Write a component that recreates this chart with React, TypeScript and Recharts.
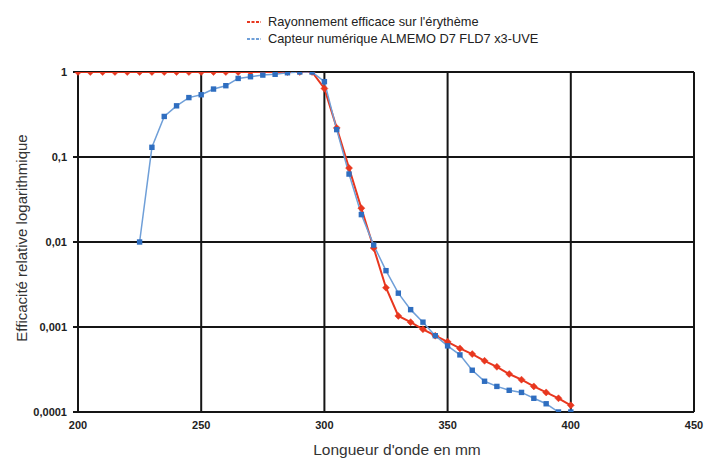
import React from "react";
import { LineChart, Line, XAxis, YAxis, CartesianGrid } from "recharts";

const wavelengths = [
  200, 205, 210, 215, 220, 225, 230, 235, 240, 245, 250, 255, 260, 265, 270, 275, 280, 285, 290, 295,
  300, 305, 310, 315, 320, 325, 330, 335, 340, 345, 350, 355, 360, 365, 370, 375, 380, 385, 390, 395, 400,
];

const erythemaValues = [
  1, 1, 1, 1, 1, 1, 1, 1, 1, 1, 1, 1, 1, 1, 1, 1, 1, 1, 1, 1,
  0.64, 0.22, 0.074, 0.025, 0.0085, 0.0029, 0.00135, 0.00114, 0.00094, 0.00079, 0.00067, 0.00056, 0.00048,
  0.0004, 0.00034, 0.00028, 0.00024, 0.0002, 0.00017, 0.000145, 0.00012,
];

const sensorValues: (number | null)[] = [
  null, null, null, null, null, 0.01, 0.13, 0.3, 0.4, 0.5, 0.54, 0.63, 0.69, 0.84, 0.88, 0.92, 0.94, 0.98, 1.0, 1.0,
  0.77, 0.21, 0.063, 0.021, 0.0092, 0.0046, 0.0025, 0.0016, 0.00114, 0.00079, 0.0006, 0.00047, 0.00031,
  0.00023, 0.0002, 0.00018, 0.00017, 0.000145, 0.000125, 0.0001, 0.0001,
];

const xTicks = [200, 250, 300, 350, 400, 450];
const yTicks = [0.0001, 0.001, 0.01, 0.1, 1];

const seriesNames = {
  red: "Rayonnement efficace sur l'érythème",
  blue: "Capteur numérique ALMEMO D7 FLD7 x3-UVE",
};

const xTitle = "Longueur d'onde en mm";
const yTitle = "Efficacité relative logarithmique";

const data = wavelengths.map((w, i) => ({
  w,
  red: erythemaValues[i],
  blue: sensorValues[i],
}));

const RED = "#e8371f";
const BLUE_LINE = "#6f9fd8";
const BLUE_DOT = "#2f6ec0";
const FONT = "'Liberation Sans', Arial, Helvetica, sans-serif";

const RedDot = (props: any) => {
  const { cx, cy } = props;
  if (cx == null || cy == null) return null;
  return (
    <polygon
      points={`${cx},${cy - 3.5} ${cx + 3.5},${cy} ${cx},${cy + 3.5} ${cx - 3.5},${cy}`}
      fill={RED}
      stroke={RED}
      strokeWidth={0.5}
    />
  );
};

const BlueDot = (props: any) => {
  const { cx, cy, value } = props;
  if (cx == null || cy == null || value == null) return null;
  return <rect x={cx - 2.7} y={cy - 2.7} width={5.4} height={5.4} fill={BLUE_DOT} />;
};

const fmt = (v: number) => String(v).replace(".", ",");

const LegendBox = () => (
  <div
    style={{
      position: "absolute",
      left: 246,
      top: 13,
      fontFamily: FONT,
      fontSize: 12.8,
      color: "#222",
      lineHeight: "17px",
    }}
  >
    {[
      { c: RED, t: seriesNames.red },
      { c: BLUE_LINE, t: seriesNames.blue },
    ].map((it) => (
      <div key={it.t} style={{ display: "flex", alignItems: "center" }}>
        <svg width={18} height={6} style={{ marginRight: 4 }}>
          <line x1={1} y1={3} x2={15} y2={3} stroke={it.c} strokeWidth={2} strokeDasharray="3 1.5" />
        </svg>
        <span>{it.t}</span>
      </div>
    ))}
  </div>
);

export default function App() {
  return (
    <div style={{ position: "absolute", left: 0, top: 0, width: 704, height: 460, background: "#fff" }}>
      <LineChart
        width={704}
        height={460}
        data={data}
        margin={{ top: 72, right: 10, bottom: 0, left: 0 }}
      >
        <CartesianGrid stroke="#151515" strokeWidth={2} />
        <XAxis
          dataKey="w"
          type="number"
          domain={[200, 450]}
          ticks={xTicks}
          height={48}
          axisLine={{ stroke: "#151515", strokeWidth: 2 }}
          tickLine={false}
          tickSize={7}
          tickMargin={2}
          tick={{ fill: "#222", fontSize: 11, fontWeight: "bold", fontFamily: FONT }}
          label={{
            content: (p: any) => {
              const vb = p.viewBox || {};
              return (
                <text
                  x={vb.x + vb.width / 2 + 11}
                  y={vb.y + 43}
                  textAnchor="middle"
                  fontFamily={FONT}
                  fontSize={15.5}
                  fill="#333"
                >
                  {xTitle}
                </text>
              );
            },
          }}
        />
        <YAxis
          type="number"
          scale="log"
          domain={[0.0001, 1]}
          ticks={yTicks}
          allowDataOverflow
          width={78}
          tickFormatter={fmt}
          axisLine={{ stroke: "#151515", strokeWidth: 2 }}
          tickLine={{ stroke: "#151515", strokeWidth: 2 }}
          tickSize={5}
          tickMargin={6}
          tick={{ fill: "#222", fontSize: 11, fontWeight: "bold", fontFamily: FONT }}
          label={{
            content: (p: any) => {
              const vb = p.viewBox || {};
              const cx = 21;
              const cy = vb.y + vb.height / 2 - 4;
              return (
                <text
                  x={cx}
                  y={cy}
                  transform={`rotate(-90, ${cx}, ${cy})`}
                  textAnchor="middle"
                  dominantBaseline="central"
                  fontFamily={FONT}
                  fontSize={15}
                  fill="#333"
                >
                  {yTitle}
                </text>
              );
            },
          }}
        />
        <Line
          dataKey="red"
          name={seriesNames.red}
          stroke={RED}
          strokeWidth={2}
          dot={<RedDot />}
          activeDot={false}
          isAnimationActive={false}
        />
        <Line
          dataKey="blue"
          name={seriesNames.blue}
          stroke={BLUE_LINE}
          strokeWidth={1.5}
          dot={<BlueDot />}
          activeDot={false}
          isAnimationActive={false}
          connectNulls={false}
        />
      </LineChart>
      <LegendBox />
    </div>
  );
}
